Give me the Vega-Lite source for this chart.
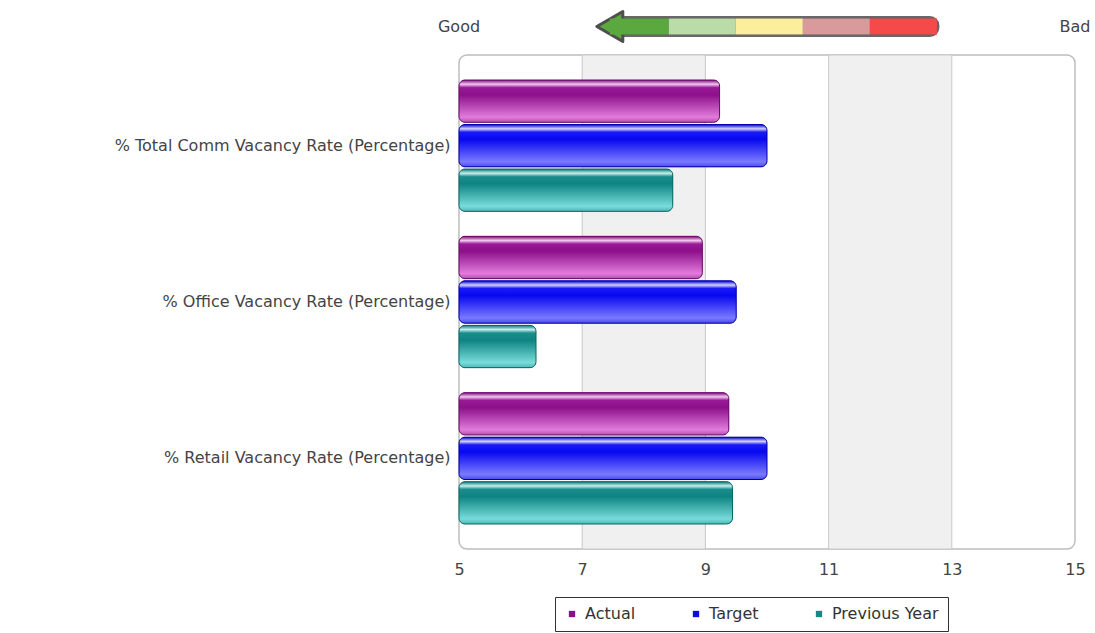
{
  "$schema": "https://vega.github.io/schema/vega-lite/v6.json",
  "autosize": {"type": "pad"},
  "padding": {"left": 0, "top": 9.5, "right": 0, "bottom": 0},
  "background": "white",
  "spacing": 9.5,
  "resolve": {"scale": {"color": "independent"}, "legend": {"color": "independent"}},
  "config": {
    "font": "DejaVu Sans",
    "view": {"stroke": null}
  },
  "datasets": {
    "measures": [
      {"metric": "% Total Comm Vacancy Rate (Percentage)", "series": "Actual", "value": 9.23},
      {"metric": "% Total Comm Vacancy Rate (Percentage)", "series": "Target", "value": 10.0},
      {"metric": "% Total Comm Vacancy Rate (Percentage)", "series": "Previous Year", "value": 8.47},
      {"metric": "% Office Vacancy Rate (Percentage)", "series": "Actual", "value": 8.95},
      {"metric": "% Office Vacancy Rate (Percentage)", "series": "Target", "value": 9.5},
      {"metric": "% Office Vacancy Rate (Percentage)", "series": "Previous Year", "value": 6.25},
      {"metric": "% Retail Vacancy Rate (Percentage)", "series": "Actual", "value": 9.38},
      {"metric": "% Retail Vacancy Rate (Percentage)", "series": "Target", "value": 10.0},
      {"metric": "% Retail Vacancy Rate (Percentage)", "series": "Previous Year", "value": 9.44}
    ],
    "shading": [
      {"from": 7, "to": 9},
      {"from": 11, "to": 13}
    ],
    "gauge": [
      {"level": 1, "from": 0.12, "to": 1},
      {"level": 2, "from": 1, "to": 2},
      {"level": 3, "from": 2, "to": 3},
      {"level": 4, "from": 3, "to": 4},
      {"level": 5, "from": 4, "to": 5}
    ],
    "ends": [
      {"label": "Good", "at": -2.13},
      {"label": "Bad", "at": 7.06}
    ]
  },
  "vconcat": [
    {
      "width": 616,
      "height": 16,
      "view": {"stroke": null},
      "encoding": {
        "y": {
          "datum": "gauge",
          "type": "nominal",
          "scale": {"paddingInner": 0, "paddingOuter": 0},
          "axis": {"title": null, "labels": false, "ticks": false, "domain": false, "grid": false, "minExtent": 458, "maxExtent": 458}
        }
      },
      "layer": [
        {
          "data": {"name": "gauge"},
          "mark": {"type": "rect", "stroke": "#4e4e4e", "strokeWidth": 5, "strokeOpacity": 0.85, "cornerRadius": 7, "fill": "#4e4e4e"},
          "encoding": {
            "x": {"aggregate": "min", "field": "from", "type": "quantitative", "scale": {"domain": [-2.13, 7.06], "nice": false, "zero": false}, "axis": null},
            "x2": {"aggregate": "max", "field": "to"}
          }
        },
        {
          "data": {"name": "gauge"},
          "transform": [{"filter": "datum.level === 1"}],
          "mark": {"type": "point", "shape": "triangle-left", "filled": true, "size": 900, "opacity": 1, "fill": "#5aa83e", "stroke": "#4e4e4e", "strokeWidth": 3, "strokeJoin": "round", "clip": false},
          "encoding": {
            "x": {"field": "from", "type": "quantitative"}
          }
        },
        {
          "data": {"name": "gauge"},
          "mark": {"type": "rect"},
          "encoding": {
            "x": {"field": "from", "type": "quantitative"},
            "x2": {"field": "to"},
            "color": {
              "field": "level",
              "type": "ordinal",
              "scale": {"domain": [1, 2, 3, 4, 5], "range": ["#5aa83e", "#b9dca9", "#fdee9e", "#d99a9c", "#f54a4a"]},
              "legend": null
            }
          }
        },
        {
          "data": {"name": "ends"},
          "mark": {"type": "text", "fontSize": 16, "color": "#444444", "align": "center", "baseline": "middle", "font": "DejaVu Sans"},
          "encoding": {
            "x": {"field": "at", "type": "quantitative"},
            "text": {"field": "label"}
          }
        }
      ]
    },
    {
      "width": 616,
      "height": 494,
      "view": {"stroke": "#bdbdbd", "strokeWidth": 1.5, "cornerRadius": 8, "fill": "white"},
      "layer": [
        {
          "data": {"name": "shading"},
          "mark": {"type": "rect", "fill": "#f0f0f0", "stroke": "#c8c8c8", "strokeWidth": 1},
          "encoding": {
            "x": {
              "field": "from",
              "type": "quantitative",
              "scale": {"domain": [5, 15], "nice": false, "zero": false},
              "axis": {
                "values": [5, 7, 9, 11, 13, 15],
                "format": "d",
                "grid": false,
                "ticks": false,
                "domain": false,
                "labelFlush": false,
                "labelFontSize": 16,
                "labelColor": "#444444",
                "labelPadding": 12,
                "title": null
              }
            },
            "x2": {"field": "to"}
          }
        },
        {
          "data": {"name": "measures"},
          "mark": {"type": "bar", "cornerRadiusEnd": 6},
          "encoding": {
            "y": {
              "field": "metric",
              "type": "nominal",
              "sort": ["% Total Comm Vacancy Rate (Percentage)", "% Office Vacancy Rate (Percentage)", "% Retail Vacancy Rate (Percentage)"],
              "scale": {"paddingInner": 0.16, "paddingOuter": 0.16},
              "axis": {
                "title": null,
                "ticks": false,
                "domain": false,
                "labelFontSize": 16,
                "labelColor": "#444444",
                "labelPadding": 9,
                "labelLimit": 500,
                "minExtent": 458,
                "maxExtent": 458
              }
            },
            "yOffset": {
              "field": "series",
              "type": "nominal",
              "sort": ["Actual", "Target", "Previous Year"],
              "scale": {"paddingInner": 0.05}
            },
            "x": {"field": "value", "type": "quantitative"},
            "x2": {"datum": 5},
            "color": {
              "field": "series",
              "type": "nominal",
              "sort": ["Actual", "Target", "Previous Year"],
              "scale": {"domain": ["Actual", "Target", "Previous Year"], "range": ["#8b1189", "#0a0af5", "#148a88"]},
              "legend": {
                "orient": "none",
                "legendX": 96,
                "legendY": 542,
                "direction": "horizontal",
                "title": null,
                "symbolType": "square",
                "symbolSize": 40,
                "symbolStrokeWidth": 0,
                "labelFontSize": 16,
                "labelColor": "#333333",
                "labelOffset": 5,
                "columnPadding": 52,
                "padding": 9,
                "strokeColor": "#333333",
                "fillColor": "white"
              }
            }
          }
        },
        {
          "data": {"name": "measures"},
          "transform": [{"filter": "datum.series === 'Actual'"}],
          "mark": {
            "type": "bar",
            "cornerRadiusEnd": 6,
            "stroke": "#6a0a68",
            "strokeWidth": 1,
            "color": {
              "gradient": "linear", "x1": 0, "y1": 0, "x2": 0, "y2": 1,
              "stops": [
                {"offset": 0, "color": "#7a0c78"},
                {"offset": 0.1, "color": "#f3c8f1"},
                {"offset": 0.18, "color": "#991a97"},
                {"offset": 0.35, "color": "#8c108a"},
                {"offset": 0.88, "color": "#e27bdc"},
                {"offset": 1, "color": "#b450b0"}
              ]
            }
          },
          "encoding": {
            "y": {"field": "metric", "type": "nominal", "sort": ["% Total Comm Vacancy Rate (Percentage)", "% Office Vacancy Rate (Percentage)", "% Retail Vacancy Rate (Percentage)"]},
            "yOffset": {"field": "series", "type": "nominal", "sort": ["Actual", "Target", "Previous Year"], "scale": {"domain": ["Actual", "Target", "Previous Year"]}},
            "x": {"field": "value", "type": "quantitative"},
            "x2": {"datum": 5}
          }
        },
        {
          "data": {"name": "measures"},
          "transform": [{"filter": "datum.series === 'Target'"}],
          "mark": {
            "type": "bar",
            "cornerRadiusEnd": 6,
            "stroke": "#0000a8",
            "strokeWidth": 1,
            "color": {
              "gradient": "linear", "x1": 0, "y1": 0, "x2": 0, "y2": 1,
              "stops": [
                {"offset": 0, "color": "#0000c8"},
                {"offset": 0.1, "color": "#d2d2ff"},
                {"offset": 0.18, "color": "#1a1af8"},
                {"offset": 0.35, "color": "#0808f0"},
                {"offset": 0.88, "color": "#7a7aff"},
                {"offset": 1, "color": "#4c4ce6"}
              ]
            }
          },
          "encoding": {
            "y": {"field": "metric", "type": "nominal", "sort": ["% Total Comm Vacancy Rate (Percentage)", "% Office Vacancy Rate (Percentage)", "% Retail Vacancy Rate (Percentage)"]},
            "yOffset": {"field": "series", "type": "nominal", "sort": ["Actual", "Target", "Previous Year"], "scale": {"domain": ["Actual", "Target", "Previous Year"]}},
            "x": {"field": "value", "type": "quantitative"},
            "x2": {"datum": 5}
          }
        },
        {
          "data": {"name": "measures"},
          "transform": [{"filter": "datum.series === 'Previous Year'"}],
          "mark": {
            "type": "bar",
            "cornerRadiusEnd": 6,
            "stroke": "#0a6664",
            "strokeWidth": 1,
            "color": {
              "gradient": "linear", "x1": 0, "y1": 0, "x2": 0, "y2": 1,
              "stops": [
                {"offset": 0, "color": "#0a7472"},
                {"offset": 0.1, "color": "#c4f0ee"},
                {"offset": 0.18, "color": "#1a8e8c"},
                {"offset": 0.35, "color": "#0e8482"},
                {"offset": 0.88, "color": "#78dcda"},
                {"offset": 1, "color": "#4cb8b6"}
              ]
            }
          },
          "encoding": {
            "y": {"field": "metric", "type": "nominal", "sort": ["% Total Comm Vacancy Rate (Percentage)", "% Office Vacancy Rate (Percentage)", "% Retail Vacancy Rate (Percentage)"]},
            "yOffset": {"field": "series", "type": "nominal", "sort": ["Actual", "Target", "Previous Year"], "scale": {"domain": ["Actual", "Target", "Previous Year"]}},
            "x": {"field": "value", "type": "quantitative"},
            "x2": {"datum": 5}
          }
        }
      ]
    }
  ]
}
